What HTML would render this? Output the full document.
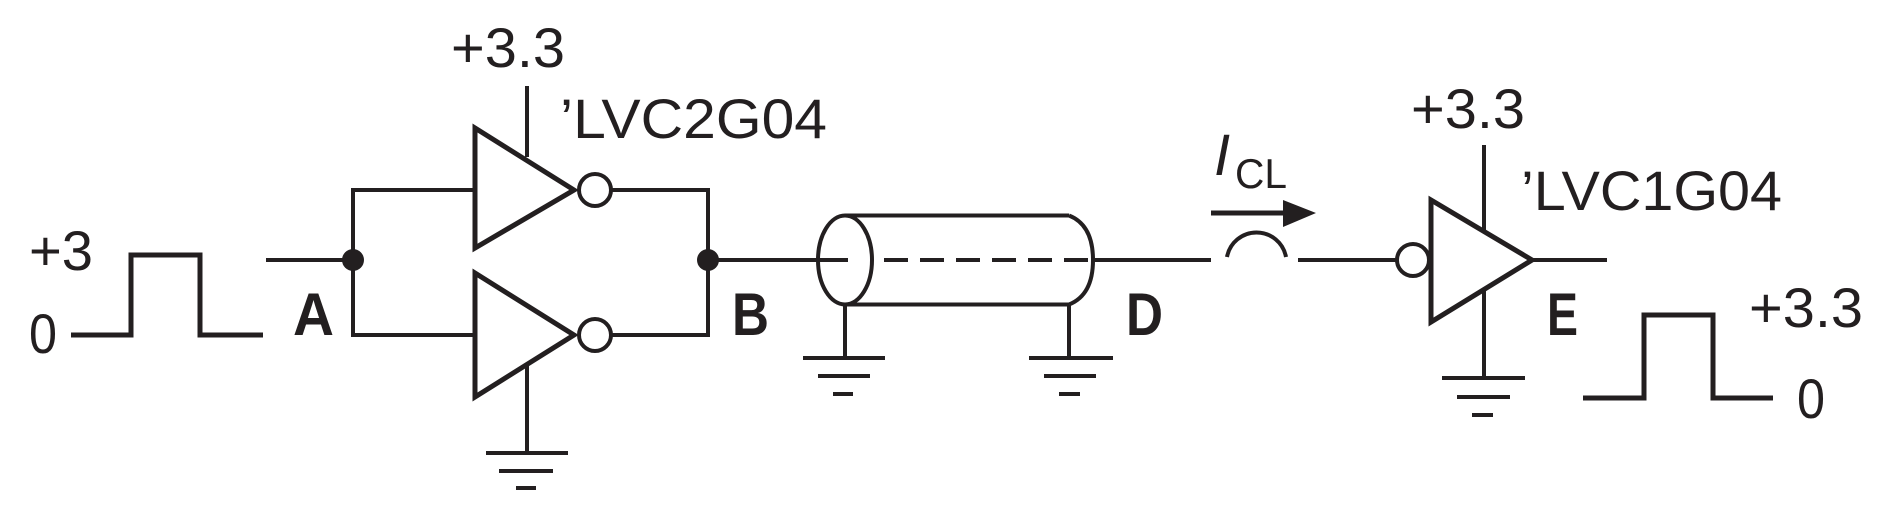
<!DOCTYPE html>
<html><head><meta charset="utf-8"><style>html,body{margin:0;padding:0;background:#fff}svg{display:block}</style></head>
<body>
<svg width="1886" height="525" viewBox="0 0 1886 525" xmlns="http://www.w3.org/2000/svg" font-family="Liberation Sans, sans-serif" fill="none" stroke="#231f20" stroke-width="4">
<!-- input pulse -->
<polyline points="71,335 131,335 131,255 200,255 200,335 263,335" stroke-width="5"/>
<text x="29" y="270" font-size="56" fill="#231f20" stroke="none" textLength="64" lengthAdjust="spacingAndGlyphs">+3</text>
<text x="29" y="353" font-size="56" fill="#231f20" stroke="none" textLength="28" lengthAdjust="spacingAndGlyphs">0</text>
<text x="293" y="335" font-size="60" font-weight="bold" fill="#231f20" stroke="none" textLength="41" lengthAdjust="spacingAndGlyphs">A</text>
<!-- input bus -->
<line x1="266" y1="260" x2="353" y2="260"/>
<polyline points="475,190 353,190 353,335 475,335"/>
<circle cx="353" cy="260" r="11" fill="#231f20" stroke="none"/>
<!-- top inverter -->
<polygon points="475,128 475,248 574,190" stroke-width="5"/>
<circle cx="595" cy="190" r="16" fill="#fff"/>
<line x1="527" y1="86" x2="527" y2="157"/>
<text x="451" y="67" font-size="56" fill="#231f20" stroke="none" textLength="114" lengthAdjust="spacingAndGlyphs">+3.3</text>
<text x="560" y="138" font-size="56" fill="#231f20" stroke="none" textLength="267" lengthAdjust="spacingAndGlyphs">’LVC2G04</text>
<!-- bottom inverter -->
<polygon points="475,273 475,397 574,335" stroke-width="5"/>
<circle cx="595" cy="335" r="16" fill="#fff"/>
<line x1="527" y1="365" x2="527" y2="453"/>
<line x1="486" y1="453" x2="568" y2="453"/>
<line x1="499" y1="471" x2="553" y2="471"/>
<line x1="516" y1="488" x2="536" y2="488"/>
<!-- output bus -->
<polyline points="611,190 708,190 708,335 611,335"/>
<circle cx="708" cy="260" r="11" fill="#231f20" stroke="none"/>
<text x="732" y="335" font-size="60" font-weight="bold" fill="#231f20" stroke="none" textLength="37" lengthAdjust="spacingAndGlyphs">B</text>
<line x1="708" y1="260" x2="848" y2="260"/>
<!-- cable -->
<ellipse cx="845" cy="260" rx="27" ry="44.5"/>
<line x1="845" y1="215.5" x2="1069" y2="215.5"/>
<line x1="845" y1="304.5" x2="1069" y2="304.5"/>
<path d="M1069,215.5 Q1093,225 1093,260 Q1093,295 1069,304.5"/>
<line x1="884" y1="260" x2="1093" y2="260" stroke-dasharray="24,12"/>
<line x1="845" y1="305" x2="845" y2="358"/>
<line x1="803" y1="358" x2="885" y2="358"/>
<line x1="818" y1="376" x2="870" y2="376"/>
<line x1="833" y1="394" x2="853" y2="394"/>
<line x1="1069" y1="305" x2="1069" y2="358"/>
<line x1="1029" y1="358" x2="1113" y2="358"/>
<line x1="1044" y1="376" x2="1096" y2="376"/>
<line x1="1059" y1="394" x2="1080" y2="394"/>
<text x="1126" y="335" font-size="60" font-weight="bold" fill="#231f20" stroke="none" textLength="37" lengthAdjust="spacingAndGlyphs">D</text>
<!-- line to receiver with crossover -->
<line x1="1093" y1="260" x2="1211" y2="260"/>
<path d="M1227,257 A30,30 0 0 1 1286,257"/>
<line x1="1298" y1="260" x2="1397" y2="260"/>
<!-- ICL arrow -->
<line x1="1211" y1="213" x2="1290" y2="213" stroke-width="5"/>
<polygon points="1283,200 1316,213 1283,227" fill="#231f20" stroke="none"/>
<text x="1214" y="175" font-size="58" font-style="italic" fill="#231f20" stroke="none">I</text>
<text x="1235" y="188" font-size="42" fill="#231f20" stroke="none" textLength="52" lengthAdjust="spacingAndGlyphs">CL</text>
<!-- receiver -->
<circle cx="1413" cy="260" r="16" fill="#fff"/>
<polygon points="1431,200 1431,322 1532,260" stroke-width="5"/>
<line x1="1532" y1="260" x2="1607" y2="260"/>
<line x1="1484" y1="145" x2="1484" y2="230"/>
<line x1="1484" y1="290" x2="1484" y2="378"/>
<line x1="1442" y1="378" x2="1525" y2="378"/>
<line x1="1457" y1="397" x2="1510" y2="397"/>
<line x1="1472" y1="415" x2="1493" y2="415"/>
<text x="1411" y="128" font-size="56" fill="#231f20" stroke="none" textLength="114" lengthAdjust="spacingAndGlyphs">+3.3</text>
<text x="1521" y="210" font-size="56" fill="#231f20" stroke="none" textLength="261" lengthAdjust="spacingAndGlyphs">’LVC1G04</text>
<text x="1547" y="335" font-size="60" font-weight="bold" fill="#231f20" stroke="none" textLength="31" lengthAdjust="spacingAndGlyphs">E</text>
<!-- output pulse -->
<polyline points="1583,398 1644,398 1644,315 1713,315 1713,398 1773,398" stroke-width="5"/>
<text x="1749" y="327" font-size="56" fill="#231f20" stroke="none" textLength="114" lengthAdjust="spacingAndGlyphs">+3.3</text>
<text x="1797" y="418" font-size="56" fill="#231f20" stroke="none" textLength="28" lengthAdjust="spacingAndGlyphs">0</text>
</svg>
</body></html>
